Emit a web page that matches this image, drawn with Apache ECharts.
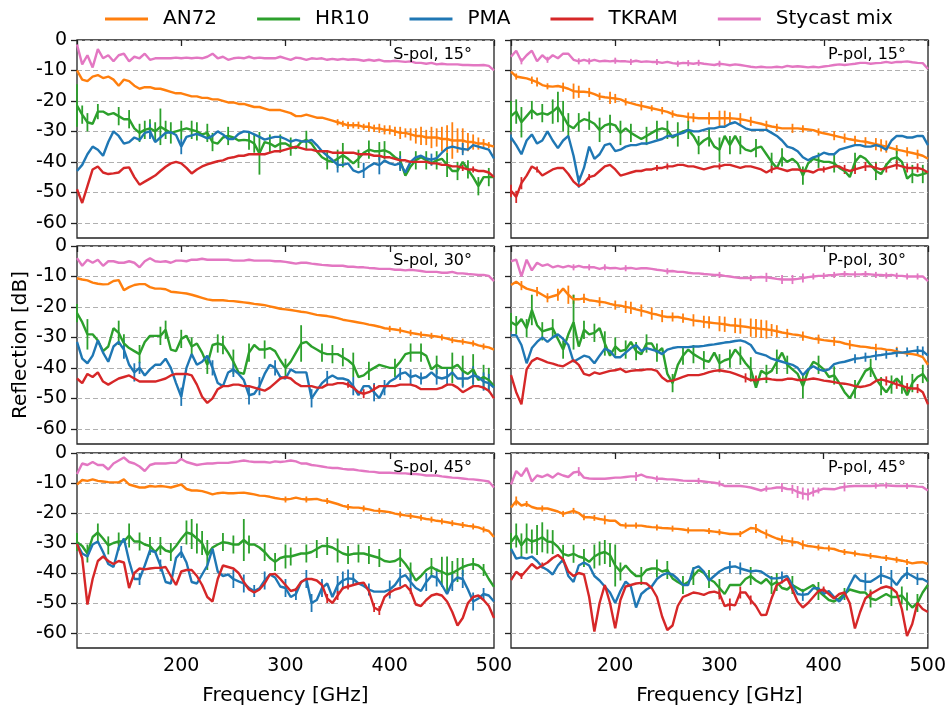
<!DOCTYPE html>
<html><head><meta charset="utf-8">
<script src="https://cdn.jsdelivr.net/npm/echarts@6/dist/echarts.min.js"></script>
<style>html,body{margin:0;padding:0;background:#fff}#c{width:949px;height:707px}</style>
</head><body><div id="c"></div>
<script>
// ---------- DATA ----------
const freqs = [100,105,110,115,120,125,130,135,140,145,150,155,160,165,170,175,180,185,190,195,
200,205,210,215,220,225,230,235,240,245,250,255,260,265,270,275,280,285,290,295,
300,305,310,315,320,325,330,335,340,345,350,355,360,365,370,375,380,385,390,395,
400,405,410,415,420,425,430,435,440,445,450,455,460,465,470,475,480,485,490,495,500];
const xTicks = [100,200,300,400,500];
const yTicks = [-60,-50,-40,-30,-20,-10,0];
const materials = ['AN72','HR10','PMA','TKRAM','Stycast mix'];
const panelLabels = ['S-pol, 15°','P-pol, 15°','S-pol, 30°','P-pol, 30°','S-pol, 45°','P-pol, 45°'];

// S-pol 15
const s15_an72 = [-10,-13,-13.5,-12,-11.5,-12.5,-12,-13,-15,-13,-13.5,-15,-16,-15.5,-15.5,-16,-16,-16.5,-17,-17.5,-17.5,-18,-18.5,-18.5,-19,-19,-19.5,-19.5,-20,-20.5,-20.5,-21,-21,-21.5,-22,-22,-22.5,-23,-23,-23,-23.5,-24,-25,-25,-24.5,-25,-25.5,-25.5,-26,-26.5,-27,-27.5,-28,-28,-28,-28.5,-28.5,-29,-29,-29.5,-29.5,-30,-30.5,-30.5,-31,-31.5,-31.5,-32,-32,-32,-32.5,-32.5,-33,-33,-33,-33.5,-33.5,-34,-34,-34.5,-35];
const s15_hr10 = [-21.5,-24.5,-27,-27.5,-23.5,-23.5,-24.5,-24,-25,-26,-26,-29,-30.5,-29.5,-29,-30,-28.5,-29.5,-30.5,-30,-29.5,-29,-29.5,-30,-31,-30.5,-33.5,-34,-32,-31.5,-32,-33,-32.8,-33,-34,-37.2,-33.5,-34,-35,-34,-34,-35,-35.5,-33.5,-32.8,-34,-36.5,-38.5,-39.5,-40,-39,-37.8,-39,-40.5,-39,-37,-36,-36.5,-36.5,-36.2,-37,-38.5,-39.5,-44.5,-41.5,-39.5,-38.5,-39.5,-40.5,-39.5,-39,-41,-43,-43,-40,-42.5,-45,-48,-45,-45,-45];
const s15_pma = [-43,-41,-37.5,-35,-36,-38,-33.5,-30,-31.5,-34,-33.5,-32,-32.8,-30.5,-30,-33.5,-32,-30.5,-30.3,-31.2,-35,-31.8,-31.3,-30.8,-31.5,-32.3,-31.5,-30,-31,-32.5,-32.5,-30.8,-30,-30.2,-31,-31.8,-32.7,-32.2,-31.8,-31.8,-32.5,-33.4,-32.8,-33.2,-33.4,-32.8,-34.5,-36.5,-38,-39.4,-41,-41,-40.5,-42.8,-43.5,-42.8,-41.5,-40.5,-41.1,-39.6,-40.5,-41,-40.5,-43.5,-40,-38.5,-38,-38.9,-39.3,-38.8,-37,-35.5,-35,-35.4,-35.8,-36,-34.5,-35,-35.5,-36,-38.9];
const s15_tkram = [-49,-53.5,-48,-42.5,-41.5,-43.5,-44,-43.8,-43.5,-42,-41.8,-45,-47.5,-46.5,-45.5,-44.5,-43,-41.6,-40.5,-40,-40.5,-42,-43.8,-42.5,-41.5,-40.8,-40.3,-39.8,-39.5,-38.8,-38.5,-38,-38,-37.5,-37.5,-37.5,-37.5,-37,-36.5,-36.5,-36,-35.5,-35,-35.5,-36,-36,-36.5,-36.5,-36.5,-37,-37,-37,-37,-37,-37.5,-37.5,-37.5,-38,-38,-38.5,-38.5,-39,-39.5,-39.5,-40,-40,-40,-40,-40.5,-40.5,-41,-41,-41.5,-41.5,-42,-42.5,-42.5,-43,-43,-43.5,-45];
const s15_styc = [-1.5,-8,-5,-9,-3,-6,-5,-7,-5,-4.5,-7,-5.5,-6,-4.5,-6.5,-6,-6,-6,-6,-5.8,-6,-5.8,-6,-5.8,-6,-5.5,-4.5,-6,-5.5,-6.5,-6,-5.8,-6,-5.5,-6,-5.8,-6,-6,-6,-5.5,-6,-6.5,-5.8,-6,-6.5,-6,-6.2,-6,-6.5,-6.2,-6.5,-6.2,-6.5,-6.3,-6.5,-6.8,-6.5,-6.8,-6.5,-7,-7,-6.8,-7,-7.2,-7,-7.5,-7.5,-7.8,-7.5,-8,-7.8,-8,-8,-8,-8.2,-8.2,-8.3,-8.3,-8.2,-8.5,-10];
// P-pol 15
const p15_an72 = [-10.4,-12,-12.3,-12.6,-13.2,-13.8,-14.8,-15.2,-15.3,-15.1,-15.5,-16,-16.8,-17,-17,-17.2,-17.8,-18.5,-18.8,-19,-19.2,-19.5,-20.3,-20.7,-21.2,-21.6,-22,-22.4,-22.8,-23.2,-23.6,-24.3,-24.8,-25,-25.3,-25.5,-25.7,-25.7,-25.7,-25.7,-25.7,-25.7,-25.7,-25.8,-26,-26.3,-26.7,-27.1,-27.5,-28,-28.4,-28.7,-29,-29,-29,-29,-29.2,-29.4,-29.6,-30.2,-30.6,-31,-31.4,-31.8,-32.2,-32.6,-32.9,-33.2,-33.4,-33.8,-34.2,-34.6,-35,-35.5,-36,-36.3,-36.7,-37.1,-37.5,-38,-39];
const p15_hr10 = [-25,-23.5,-27,-25,-23,-24.5,-24,-24.5,-23.5,-22,-25,-28,-29,-27,-26,-26.5,-27.5,-29.5,-28,-27.5,-28,-30.5,-29,-30.5,-31.5,-32.5,-31.5,-30.5,-29.5,-29,-29.5,-32,-31,-30,-29.5,-31.5,-34.5,-33,-32,-35,-36,-31.5,-34.5,-31.5,-34.5,-36,-36.5,-35.5,-35,-37.5,-40,-42,-38.5,-40,-39,-40.5,-44.5,-40.5,-39,-39.5,-40,-40,-40.5,-42,-43,-45,-40,-38,-39,-41,-43,-44,-41,-39,-38.5,-40,-45.5,-44,-44.5,-44,-43.5];
const p15_pma = [-32,-34.5,-37.5,-33,-31,-34,-33,-30,-33,-35.5,-33,-31.5,-38,-46.5,-42,-35,-39,-37.5,-34.5,-34,-36.5,-36,-35,-34.5,-34.5,-34,-34,-33.5,-33,-32.5,-31.5,-31.5,-31,-30.5,-29.5,-30,-30,-29.5,-29,-29,-28.5,-28.5,-27.5,-27,-28,-29,-29.5,-29.5,-29.5,-29.5,-30.5,-31.5,-33,-35,-35.5,-36.5,-38.5,-39.5,-38.5,-38,-37,-37.5,-37.5,-36,-35.5,-35,-34.5,-34.5,-35,-35,-34.5,-35,-36,-33,-31.5,-31.5,-32,-32,-31.5,-31.5,-34.5];
const p15_tkram = [-49.5,-51.5,-47,-44.5,-41.5,-42.5,-44.5,-43.5,-42.5,-42,-42,-44,-46.5,-48,-47,-45,-44.5,-43,-41.5,-41,-42.5,-44.5,-44,-43.5,-43,-43,-42.5,-42.5,-42,-42,-41.5,-41.5,-41,-41,-41.5,-41.5,-42,-42.5,-42,-41.5,-41.5,-41,-41,-41.5,-42,-41.5,-41.5,-42,-42.5,-43.5,-42.5,-42,-42.5,-43,-42.5,-42.5,-43,-43,-43.5,-42.5,-42.5,-42,-41.5,-41.5,-42.5,-43,-42.5,-42,-41.5,-41.5,-42,-42.5,-42,-41.5,-41,-41.5,-42,-42,-42,-42.5,-43.5];
const p15_styc = [-5.5,-3.5,-7,-5,-3.5,-7,-5,-6.5,-5,-6,-4.5,-4.5,-6.5,-7,-6.5,-7,-6.5,-7,-6.8,-7,-6.8,-7,-7,-7.2,-6.8,-7.2,-7,-7.2,-7.2,-7.5,-7.2,-7.6,-7.8,-7.5,-7.6,-7.8,-7.5,-7.8,-8,-8.2,-7.8,-8,-8.3,-8,-8.2,-8.5,-8.8,-9,-8.8,-9,-9,-8.8,-9,-8.5,-8.8,-8.6,-8.8,-9,-8.8,-9,-8.7,-8.5,-8.2,-8,-8.2,-8,-7.8,-7.5,-7.5,-7.8,-7.6,-7.5,-7.2,-7.5,-7.2,-7.2,-7,-7.3,-7.5,-7.6,-9.5];
// S-pol 30
const s30_an72 = [-10.6,-11,-11.3,-12,-12.4,-12.6,-12.5,-11.5,-11.2,-14.5,-13.5,-12.8,-12.5,-12.5,-13.5,-14,-14,-14.2,-15,-15.2,-15.4,-15.6,-16,-16.5,-17,-17.5,-17.8,-17.8,-17.8,-18,-18.1,-18.3,-18.5,-18.7,-19,-19.2,-19.4,-19.8,-20.2,-20.6,-20.8,-21,-21.3,-21.6,-21.8,-22.2,-22.6,-22.8,-23,-23.3,-23.7,-24.2,-24.5,-24.8,-25.1,-25.4,-25.8,-26.1,-26.5,-27,-27.2,-27.4,-27.7,-28.1,-28.5,-28.8,-29.1,-29.3,-29.5,-29.7,-30,-30.4,-30.9,-31.2,-31.4,-31.7,-32,-32.6,-33,-33.3,-34];
const s30_hr10 = [-22,-25,-29,-29,-31,-34.5,-33,-27,-28.5,-32,-33.5,-34.5,-35.5,-31.5,-29.5,-29.5,-29.5,-27.5,-34,-34.5,-30.5,-29.5,-33,-32,-35,-39,-32.5,-32,-32.5,-35,-38,-41.5,-42,-35,-32.5,-34,-34,-33.5,-34.5,-37.5,-40,-38,-35,-32,-31.5,-33,-34,-35,-35.5,-35.5,-35.5,-36.5,-37.5,-39,-43,-42.5,-41,-40,-39,-39.5,-40,-40,-38,-35.5,-35,-35,-35,-36,-40.5,-39,-40,-40,-40,-39,-41,-42,-40.5,-44,-43,-44,-46];
const s30_pma = [-31.5,-37,-38.5,-36,-31,-35,-38,-33,-31.5,-34,-39,-41.5,-40,-42.5,-40.5,-39,-39,-37,-40,-45,-49.5,-40,-35.5,-39,-38,-36,-40,-45,-46,-41.5,-40.5,-42,-44,-49,-48.5,-46,-42,-39,-40,-43,-43.5,-40.5,-41.5,-41.5,-41.5,-50,-47.5,-45,-43.5,-42.5,-43.5,-43.5,-44,-46,-49,-46,-46,-48,-50,-46.5,-44.5,-43.5,-42,-41.5,-43,-42.5,-43.5,-43,-41.5,-43,-43.5,-43,-41.5,-43.5,-43.5,-43.5,-42.5,-43,-44.5,-45,-46.5];
const s30_tkram = [-43.5,-45,-42,-43,-41.5,-44.5,-45.5,-44.5,-43.5,-43,-42.5,-43.5,-44.5,-44.5,-44.5,-44.5,-44,-43.5,-42.5,-42,-42,-42,-42.5,-45.5,-49.5,-51.5,-50,-47,-46,-46,-45.5,-45.5,-46,-46,-46.5,-47,-47.5,-46.5,-45,-43.5,-43,-43.5,-45,-46,-46,-46,-46.5,-46.5,-45.5,-45.5,-45,-45,-45.5,-46.5,-48,-48.5,-48,-47,-46,-46,-46,-46,-45.5,-45.5,-45.5,-46,-47,-47,-47,-47,-46.5,-45.5,-45.5,-46.5,-48,-47,-46,-46,-46.5,-47.5,-50];
const s30_styc = [-4,-6.5,-4.5,-5.5,-4.5,-6.5,-5,-5,-5.5,-5.5,-5,-5.5,-7,-5,-4,-5,-5.2,-5,-5.5,-4.8,-4.8,-5,-4.5,-4.5,-4.2,-4.5,-4.5,-4.5,-4.5,-4.5,-4.8,-4.8,-4.8,-4.5,-4.8,-4.8,-4.8,-4.8,-5,-5,-5.2,-5.5,-5.8,-5.5,-5.5,-5.8,-6,-6.2,-6.3,-6.5,-6.5,-6.5,-6.8,-6.8,-7,-7,-7.2,-7.3,-7.5,-7.5,-7.5,-7.8,-7.8,-8,-7.8,-8,-8.2,-8.5,-8.5,-8.5,-8.8,-8.8,-8.5,-9,-9,-9.2,-9.3,-9.5,-9.5,-9.8,-11.5];
// P-pol 30
const p30_an72 = [-12.8,-11.7,-13,-14,-14.5,-15,-16,-17,-16.5,-16,-14,-16,-17.5,-17.5,-17.2,-17.8,-18,-18.3,-18.5,-19,-19.4,-19.6,-20,-20.3,-20.8,-21.2,-21.6,-22.2,-22.5,-23,-23.3,-23.3,-23.3,-23.7,-24,-24.4,-24.6,-24.9,-25.1,-25.3,-25.5,-25.7,-26,-26.1,-26.3,-26.5,-26.8,-27,-27.2,-27.4,-27.6,-28,-28.4,-28.7,-29,-29.2,-29.6,-30,-30.4,-30.6,-30.9,-31.1,-31.3,-31.5,-32,-32.4,-32.7,-33,-33.1,-33.4,-33.6,-33.7,-34,-34.2,-34.6,-35,-35.3,-35.5,-35.8,-36.5,-39];
const p30_hr10 = [-25,-26,-24,-27,-21,-26,-28,-27.5,-27,-30.5,-34,-29,-25,-33,-27.5,-29,-28.5,-27,-32,-36,-33,-34.5,-34,-31.5,-34.5,-35.5,-32,-32,-35,-33.5,-42,-45,-39,-36,-34,-35.5,-36.5,-37.5,-38,-35,-38.5,-37.5,-37,-34,-36,-38.5,-40.5,-46.5,-41,-42,-41,-38,-35,-39,-40.5,-42,-46,-41,-38,-39,-40.5,-43,-42.5,-45,-48,-50,-47,-44,-41,-40,-43.5,-46,-48,-45.5,-43.5,-45.5,-49,-45,-43,-42,-44.5];
const p30_pma = [-29.3,-29.3,-32.5,-38.5,-33.5,-31.5,-30,-31.5,-30,-29,-30.5,-32.5,-38,-37,-36,-36.5,-38.5,-36,-33.7,-34.5,-36.5,-36.5,-35,-33.5,-32.5,-34.5,-33.5,-34,-34.5,-35.5,-34,-33.5,-33.2,-33.2,-33.2,-33,-33,-32.8,-32.5,-32.3,-32,-31.7,-31.5,-31.2,-31,-31.5,-32.5,-35,-35.5,-36,-37,-37.5,-38,-38.5,-39,-40,-42.4,-40.5,-39.5,-40.5,-41,-40.5,-38.8,-38.3,-38,-37.5,-37,-36.8,-36.5,-36.3,-36,-35.8,-35.5,-35.3,-35,-35,-34.8,-34.5,-34.3,-34.5,-36];
const p30_tkram = [-42.4,-48,-52,-40.5,-37.8,-36.8,-37.5,-38.2,-38.6,-39.2,-39.5,-38.5,-37.5,-39,-42,-42.5,-41.5,-42,-41.5,-41,-40.8,-40.3,-41.4,-41,-40.8,-40.8,-40.5,-40.5,-41,-43.2,-44.4,-44.2,-43.6,-43,-42.4,-42.4,-42.4,-42,-41.4,-41,-40.8,-41.1,-41.4,-42,-42.6,-43.3,-44,-44,-43.7,-43.5,-43.8,-44,-44,-43.6,-43.6,-44,-44,-43.8,-43.5,-43.8,-44.2,-44.4,-44.7,-45,-45.2,-45.5,-46,-46.3,-46,-45.5,-44.3,-43.8,-44.3,-44.8,-45.4,-45.9,-46.5,-46.8,-46.8,-48,-52];
const p30_styc = [-5,-4.5,-10,-4.5,-8,-5.5,-6.5,-6,-7,-6.5,-7,-6.5,-7,-6.5,-7,-7,-7,-7.5,-7,-7.3,-7.2,-7.5,-7.3,-7.2,-7.5,-7.3,-7.3,-7.5,-7.8,-8,-8.3,-8.2,-8.5,-8.5,-8.8,-9,-9,-9.2,-9.3,-9.5,-9.5,-9.8,-10,-10.3,-10.5,-10.5,-10.5,-10.3,-10.2,-10.3,-10.5,-10.8,-11,-11,-11,-10.8,-10.5,-10.2,-10,-9.8,-9.8,-9.6,-9.5,-9.3,-9.2,-9.3,-9.3,-9.3,-9.2,-9.3,-9.5,-9.5,-9.7,-9.5,-9.8,-9.8,-10,-10,-10,-10,-11.5];
// S-pol 45
const s45_an72 = [-10.5,-9,-9.3,-8.8,-9.3,-9.5,-9.7,-9.8,-9.8,-8.8,-10.5,-11,-11.5,-11.5,-11,-11.2,-11,-11.2,-11.5,-11,-10.5,-12,-12.5,-12.5,-12.7,-13.2,-13.8,-13.4,-13.2,-13.4,-13.4,-13.3,-13.2,-13.5,-13.8,-14.2,-14.3,-14.6,-15,-15.3,-15.5,-15.3,-14.9,-15.3,-15.5,-15.4,-15.3,-15.8,-16,-16.5,-17,-17.6,-18,-18.2,-18.2,-18.5,-18.8,-19.2,-19.3,-19.5,-19.7,-20.2,-20.5,-20.8,-21,-21.3,-21.6,-22,-22.2,-22.6,-22.8,-23.1,-23.4,-23.7,-24,-24.3,-24.5,-24.8,-25.5,-26,-28];
const s45_hr10 = [-29.7,-31,-33.5,-28,-26.5,-28.5,-30.8,-30,-29.5,-29.5,-27.5,-29.5,-29.5,-30.5,-31,-33,-31,-32.5,-33,-31,-28.6,-26.5,-27,-28.5,-30,-34,-31.5,-30.5,-29.7,-30,-30.5,-30.5,-29,-30.5,-30.5,-31.5,-33,-35,-36.3,-35,-34.5,-34.5,-34,-33.5,-33.5,-33,-32,-31,-31,-31.5,-32.5,-33.5,-34,-33.6,-33.5,-33.5,-34,-34.5,-35,-36,-36.3,-36,-35,-37,-39.5,-42.5,-41,-39,-38,-39,-39.6,-40.5,-40,-39,-38,-37.4,-37,-37.5,-39,-42,-44.6];
const s45_pma = [-30.3,-33.5,-34.5,-30.5,-29.5,-33,-37,-38,-31.5,-28.5,-36,-42,-42,-37.5,-32.5,-33,-37.5,-43,-43.5,-35,-33,-36.5,-43,-43.5,-40.5,-37.5,-31.9,-39.5,-41,-40.5,-42,-42.8,-43.5,-45,-46,-45.1,-42.5,-40.5,-41.5,-44.5,-45,-48,-47,-43,-42,-50,-49,-45,-43.5,-48,-44,-42.5,-41.8,-42,-43.5,-44.3,-45.5,-46.2,-46.2,-46.2,-45.5,-44,-41.5,-40.7,-43,-45,-46,-43,-41,-41.5,-44,-47,-43,-41.5,-42,-45.5,-49.5,-48.5,-47,-47.5,-49.5];
const s45_tkram = [-30.3,-35,-50.5,-42,-36,-34.5,-36,-37,-36,-36.5,-45,-40,-38.5,-38.8,-38.5,-38.3,-38.3,-38,-41,-44,-39.5,-39,-39,-41,-44,-48,-49.5,-42,-37.5,-38,-38.5,-40,-43,-45.5,-46.5,-45.5,-43.5,-40.5,-40.3,-42,-44,-46,-45.5,-43,-42,-42,-42.5,-44,-48.5,-50,-47.5,-45,-44.5,-44,-43.5,-43.2,-46,-51.5,-52.5,-48,-46.5,-45.5,-45,-44,-46,-50.5,-51,-49,-47.5,-47,-47.5,-49.5,-53,-57.5,-55,-50,-48,-47.5,-49,-51,-55];
const s45_styc = [-7,-3.5,-4,-3,-4,-4,-5.5,-3.5,-2.5,-1.5,-3,-3.5,-4.5,-6,-4,-3.5,-3.5,-3.5,-3.3,-3.3,-2,-3,-3.5,-4,-3.7,-3.5,-3.5,-3.3,-3.3,-3.3,-3,-2.8,-2.5,-2.8,-3,-3,-3,-3.2,-2.8,-3,-2.8,-2.5,-2.8,-3.5,-3.5,-4,-4.2,-4.5,-4.8,-5,-5,-5.3,-5.5,-5.5,-5.8,-6,-6.2,-6.3,-6.6,-6.6,-6.6,-6.7,-6.8,-6.8,-7,-7,-7.2,-7.5,-7.5,-7.5,-7.8,-8,-8.2,-8.3,-8.5,-8.7,-8.8,-9,-9.2,-9.5,-11.5];
// P-pol 45
const p45_an72 = [-18.2,-16,-17.5,-17,-18,-18.5,-18.5,-18.5,-19,-19.5,-20.3,-19.8,-19.3,-20,-21.4,-21.4,-21.6,-22,-22.3,-22.6,-22.6,-24,-24.2,-24.2,-24.2,-24.2,-24.5,-24.7,-24.8,-25,-25.1,-25.2,-25.3,-25.5,-25.8,-25.8,-25.8,-25.8,-26,-26.2,-26.4,-26.7,-27,-27,-27,-26,-25,-25.2,-26.2,-27,-27.8,-28.5,-29,-29.3,-29.6,-29.8,-30.6,-31,-31.2,-31.5,-31.7,-31.8,-32,-32.6,-33,-33.2,-33.5,-33.8,-34,-34.3,-34.5,-34.8,-35,-35.3,-35.6,-35.9,-36.3,-36.8,-36.5,-36.4,-37];
const p45_hr10 = [-29.7,-27.5,-30.8,-28.5,-29.5,-29,-28.1,-29.5,-29.7,-31.3,-33.6,-34.2,-33.6,-34.5,-35,-36.3,-34.5,-33.5,-33,-34,-37.5,-39.5,-37.5,-39.5,-41,-41,-39,-38.5,-38.5,-39.5,-39,-41.8,-43,-44,-43,-41,-39,-40,-42,-43,-45,-47,-44,-44,-44,-42,-41,-42.5,-43.5,-42,-44,-43,-45,-45.5,-44,-45,-46,-45,-44,-46,-47.5,-49,-49.5,-48.5,-47,-45.5,-46,-46.5,-46.5,-48.5,-49,-48,-47,-48,-48,-47.5,-49.5,-51.5,-50,-46.5,-44];
const p45_pma = [-31.9,-35.2,-34.8,-35.2,-34.5,-36,-38,-39,-40.5,-37.5,-35.5,-41,-43,-37.5,-36.5,-37.5,-41,-42.5,-44.5,-46.5,-50,-46,-42.9,-44.5,-51.5,-47,-45.5,-44.5,-42,-40.7,-40,-40.5,-42,-44,-44,-38.5,-37.8,-39.5,-42.5,-41,-39.5,-38.5,-38,-37.8,-38.5,-39,-39.5,-39.2,-39.5,-40.7,-41.8,-41.8,-41.5,-41,-44,-47,-47.3,-47,-45.1,-45.1,-47,-46,-48,-49.5,-47.5,-44,-40.7,-42.5,-42.9,-42.9,-41.8,-40.7,-41.3,-42,-44,-41.5,-40,-41,-42,-42,-43];
const p45_tkram = [-42.4,-39.6,-41,-39,-37,-38.5,-37.5,-36.5,-35,-34,-35.5,-39.5,-41,-40,-40.5,-48,-59.5,-50,-44,-50,-58.4,-49,-44.5,-44,-43.5,-43.3,-43.5,-45,-48,-54.5,-59,-57.5,-51,-48,-47.3,-46.5,-46.8,-47.3,-46.5,-46.2,-46.8,-51,-50.5,-50.8,-46.5,-46.5,-49,-51,-54,-53.9,-48.5,-44,-43,-41.8,-45.5,-49.5,-51.5,-50,-48,-46,-45.5,-47,-48.5,-47,-46.5,-50,-58.5,-53,-48.5,-47,-46,-45,-44.5,-45,-46.5,-52,-61,-57,-50,-52,-53];
const p45_styc = [-10.5,-6,-7.7,-5,-9.5,-7.5,-8,-7.2,-8.2,-6.8,-7.5,-8,-6.5,-6.2,-8.2,-8.5,-8.6,-8.6,-8.6,-8.4,-8.2,-8.2,-8,-7.8,-7.8,-7.2,-8,-8.2,-8.6,-8.6,-8.8,-8.8,-9,-9.2,-9.3,-9.3,-9.3,-9.5,-9.7,-9.9,-10.2,-11,-11,-11,-11,-11.2,-11.5,-12,-12.5,-11.9,-11.8,-11.5,-11.5,-12,-12.1,-13,-13.5,-13.8,-13,-12.5,-11.9,-12,-12.1,-11.6,-11.3,-11.1,-11,-11,-11,-11,-10.9,-10.8,-10.8,-10.9,-11,-11,-11,-11,-11.2,-11.3,-12.5];

// Error bars: [frequency, half-width in dB]
const s15_an72_err = [[350,1],[355,1],[360,1.2],[365,1],[370,1.2],[375,1],[380,1.5],[385,1.2],[390,1.5],[395,1.5],[400,1.5],[405,1.5],[410,2],[415,1.5],[420,2],[425,2.5],[430,3],[435,2.5],[440,3.5],[445,3],[450,4],[455,4.5],[460,6],[465,4],[470,4],[475,3],[480,2.5],[485,2],[490,1.5],[495,1]];
const s15_hr10_err = [[100,7],[105,3],[110,3],[120,2.5],[140,3],[150,3],[160,3],[165,3],[170,3],[175,3],[180,6],[185,3],[190,3.5],[200,3],[210,3],[215,3],[225,3],[230,3],[245,3],[265,3],[270,3],[275,7],[285,3],[295,3],[305,3],[320,3],[340,3],[350,3],[355,4],[370,3],[380,3],[390,3],[395,3],[410,3],[425,3],[435,3],[445,3],[455,4],[465,3],[475,3],[485,3],[495,3]];
const s15_pma_err = [[170,2.5],[200,2.5],[350,2.5],[375,2.5],[390,3],[410,2.5],[440,2],[470,2]];
const s15_tkram_err = [[470,1],[480,1]];
const p15_an72_err = [[105,1],[120,1.2],[125,1.5],[135,1],[150,1.5],[160,2.5],[165,2],[175,1.5],[185,1.2],[195,2],[200,1.5],[210,1.2],[225,1.5],[235,1],[245,1.2],[255,1.2],[270,1.5],[275,1.5],[290,2],[300,2.5],[305,2.5],[310,2],[320,2],[330,1.5],[345,1.5],[355,1.2],[370,1.5],[380,1.2],[395,1.2],[410,1.5],[420,1.5],[430,1.5],[440,1.5],[450,2],[455,2],[460,2],[470,1.5],[480,1.5],[490,1.5]];
const p15_hr10_err = [[100,5],[105,4],[110,5],[120,3],[130,3],[140,4],[145,5],[150,5],[155,4],[165,3],[175,3],[185,4],[195,3],[205,4],[215,3],[230,3],[240,3],[250,3],[260,4],[270,3],[280,3],[290,3],[300,4],[310,3],[320,3],[335,3],[350,3],[360,3],[380,3],[395,2.5],[410,3],[430,3],[450,3],[470,3],[485,3],[495,3]];
const p15_pma_err = [[100,1],[165,2]];
const p15_tkram_err = [[100,2],[105,2],[110,2],[125,1],[175,1],[240,1],[250,1],[300,1],[350,1.2],[400,1],[420,1.5],[430,1.5],[440,1.5],[450,1.5],[460,1.5],[470,1.5],[480,1.5],[490,1.5]];
const p15_styc_err = [[110,1],[135,1],[165,1],[175,1],[200,1],[215,1],[240,1],[260,1],[270,1],[280,1],[300,1]];
const s30_an72_err = [[400,1],[410,1],[420,1],[430,1],[440,1],[450,1],[460,1],[470,1],[480,1],[490,1]];
const s30_hr10_err = [[100,3],[110,5],[140,4],[145,3],[160,3],[180,3],[185,3],[200,3],[210,3],[225,3],[235,3],[240,3],[250,4],[265,3],[280,3],[300,3],[315,6],[335,3],[345,3],[355,3],[365,4],[380,3],[405,3],[420,3],[430,3],[445,3],[460,5],[470,5],[480,5],[490,4],[495,4]];
const s30_pma_err = [[145,3],[155,3],[160,2],[200,3],[230,2.5],[250,2.5],[265,3],[275,3],[290,2.5],[325,3],[340,2.5],[365,3],[385,3],[395,2.5],[410,2],[420,2.5],[430,2],[445,2.5],[455,3],[470,3],[480,3],[490,3],[495,3]];
const s30_tkram_err = [[360,1],[375,1.5],[385,1.5]];
const p30_an72_err = [[110,1.5],[125,1.5],[135,1.5],[145,2],[155,3],[160,1.5],[170,1.5],[185,1.5],[200,1.5],[210,2],[215,2],[225,2],[235,2],[245,2],[255,1.5],[265,1.5],[275,2],[285,2],[290,2],[300,2.5],[305,2.5],[315,2.5],[320,2.5],[330,3],[335,3],[340,3],[345,3],[350,2],[355,2],[365,1.5],[380,1.5],[395,1.5],[410,1.5],[425,1.5],[450,1.5],[470,1.5]];
const p30_hr10_err = [[100,3],[105,3],[115,3],[120,5],[130,3],[140,3],[150,3],[160,9],[170,3],[180,3],[190,4],[200,3],[210,3],[220,3],[230,3],[240,3],[255,3],[265,3],[275,3],[285,3],[300,3],[310,3],[320,3],[330,4],[345,3],[355,4],[365,3],[380,4],[395,3],[410,3],[430,3],[445,3],[455,3],[465,3],[475,3],[485,3],[495,3]];
const p30_pma_err = [[430,1.5],[440,1.5],[450,1.5],[460,1.5],[470,1.5],[480,1.5],[490,1.5],[495,1.5]];
const p30_tkram_err = [[325,1.5],[335,1.5],[460,1.5],[470,1.5],[480,1.5],[490,1.5]];
const p30_styc_err = [[160,1],[175,1],[190,1],[210,1],[250,1],[300,1],[330,1],[345,1.5],[360,1.5],[370,1.5],[380,1.5],[390,1],[400,1],[410,1],[420,1],[430,1],[440,1],[450,1],[460,1],[470,1],[480,1],[490,1]];
const s45_an72_err = [[300,1],[320,1],[340,1],[360,1],[375,1],[390,1],[410,1],[420,1],[430,1],[440,1],[450,1],[460,1],[470,1],[480,1],[490,1]];
const s45_hr10_err = [[100,3],[110,3],[120,3],[130,3],[140,3],[150,4],[160,3],[170,3],[180,3],[190,3],[205,4],[210,5],[215,5],[220,4],[225,5],[240,3],[250,3],[260,7],[265,3],[280,3],[290,3],[300,4],[305,3],[320,3],[330,3],[340,3],[350,4],[360,3],[370,3],[380,3],[390,3],[410,3],[420,3],[440,3],[450,5],[455,6],[460,4],[465,4],[470,3],[480,2],[490,2]];
const s45_pma_err = [[160,2],[180,2],[200,2],[250,3],[260,3],[270,2],[280,3],[300,3],[310,2],[320,3],[325,3],[335,3],[350,3],[355,3],[360,3],[365,2],[380,2],[400,3],[410,3],[420,3],[435,3],[445,3],[460,3],[470,3],[480,3],[490,2]];
const s45_tkram_err = [[340,1.5],[350,1.5],[360,1],[385,1.5],[390,1.5],[400,1],[420,1]];
const p45_an72_err = [[105,1.5],[115,1],[130,1],[150,1],[160,1],[170,1],[180,1],[190,1.5],[210,1],[220,1],[240,1],[255,1],[270,1],[290,1],[300,1],[320,1],[335,1.5],[345,1.5],[360,1.5],[370,1.5],[380,1.5],[395,1],[405,1],[420,1],[430,1],[445,1],[460,1],[470,1],[480,1]];
const p45_hr10_err = [[100,3],[105,4],[110,4],[115,5],[120,4],[125,5],[130,5],[135,4],[140,4],[150,3],[160,3],[170,3],[180,4],[185,4],[190,4],[195,4],[200,7],[205,3],[225,3],[240,3],[250,3],[265,3],[275,3],[290,3],[300,3],[330,3],[350,3],[355,3],[370,3],[395,3],[420,2],[445,3],[465,3],[475,3],[480,3],[490,3]];
const p45_pma_err = [[310,2],[320,2],[360,2],[380,2],[440,3],[455,3],[465,3],[480,2],[490,2]];
const p45_tkram_err = [[110,1],[130,1],[300,2],[310,2],[320,2],[330,1.5],[400,1],[445,1]];
const p45_styc_err = [[165,1.5],[220,1.5],[240,1],[280,1],[300,1],[345,1],[360,1.5],[370,1.5],[375,2],[380,2],[385,2],[390,1.5],[395,1],[420,1.5],[450,1],[460,1],[480,1]];

// ---------- CHART ----------
const FONT = 'DejaVu Sans';
const colors = ['#ff7f0e','#2ca02c','#1f77b4','#d62728','#e377c2'];
const panelData = [
  [s15_an72,s15_hr10,s15_pma,s15_tkram,s15_styc],
  [p15_an72,p15_hr10,p15_pma,p15_tkram,p15_styc],
  [s30_an72,s30_hr10,s30_pma,s30_tkram,s30_styc],
  [p30_an72,p30_hr10,p30_pma,p30_tkram,p30_styc],
  [s45_an72,s45_hr10,s45_pma,s45_tkram,s45_styc],
  [p45_an72,p45_hr10,p45_pma,p45_tkram,p45_styc]
];
const panelErr = [
  [s15_an72_err,s15_hr10_err,s15_pma_err,s15_tkram_err,[]],
  [p15_an72_err,p15_hr10_err,p15_pma_err,p15_tkram_err,p15_styc_err],
  [s30_an72_err,s30_hr10_err,s30_pma_err,s30_tkram_err,[]],
  [p30_an72_err,p30_hr10_err,p30_pma_err,p30_tkram_err,p30_styc_err],
  [s45_an72_err,s45_hr10_err,s45_pma_err,s45_tkram_err,[]],
  [p45_an72_err,p45_hr10_err,p45_pma_err,p45_tkram_err,p45_styc_err]
];
panelData.forEach((p,pi)=>p.forEach((a,mi)=>{ if(a.length!==freqs.length) throw new Error('len '+pi+' '+mi+' '+a.length); }));

const colLeft = [77, 511], gridW = 417;
const rowTop = [40, 246, 453], gridH = 198;
const YMIN = -65, YMAX = 0;

const grids=[], xAxes=[], yAxes=[], series=[], titles=[];
panelData.forEach((pd, i) => {
  const row = Math.floor(i/2), col = i%2;
  grids.push({left: colLeft[col], top: rowTop[row], width: gridW, height: gridH,
    show: true, borderColor: '#222', borderWidth: 1.3, backgroundColor: 'transparent'});
  xAxes.push({gridIndex: i, type: 'value', min: 100, max: 500, interval: 100,
    axisLine: {show: false},
    axisTick: {show: true, length: 6, lineStyle: {color: '#222', width: 1.3}},
    axisLabel: {show: row === 2, showMinLabel: false, fontSize: 19, color: '#000', margin: 9, fontFamily: FONT},
    splitLine: {show: false},
    name: row === 2 ? 'Frequency [GHz]' : '', nameLocation: 'middle', nameGap: 38,
    nameTextStyle: {fontSize: 20, color: '#000', fontFamily: FONT}});
  yAxes.push({gridIndex: i, type: 'value', min: YMIN, max: YMAX, splitNumber: 6,
    axisLine: {show: false},
    axisTick: {show: true, length: 6, customValues: yTicks, lineStyle: {color: '#222', width: 1.3}},
    axisLabel: {show: col === 0, customValues: yTicks, fontSize: 19, color: '#000', margin: 10, fontFamily: FONT,
      formatter: v => (v % 10 === 0 ? (v === 0 ? '0' : '-' + Math.abs(v)) : '')},
    splitLine: {show: true, lineStyle: {color: '#b0b0b0', width: 1, type: [5, 3]}},
    name: (row === 1 && col === 0) ? 'Reflection [dB]' : '', nameLocation: 'middle', nameGap: 46,
    nameTextStyle: {fontSize: 20, color: '#000', fontFamily: FONT}});
  titles.push({text: panelLabels[i], right: col === 0 ? 477 : 43, top: rowTop[row] + 7, padding: 0,
    textStyle: {fontSize: 16, fontWeight: 'normal', color: '#000', fontFamily: FONT}});
  pd.forEach((vals, mi) => {
    series.push({name: materials[mi], type: 'line', xAxisIndex: i, yAxisIndex: i,
      data: freqs.map((f, k) => [f, vals[k]]), symbol: 'none', showSymbol: false,
      lineStyle: {color: colors[mi], width: 2.4}, itemStyle: {color: colors[mi]},
      emphasis: {disabled: true}, silent: true, clip: true});
    const errs = panelErr[i][mi];
    if (errs.length) {
      const edata = errs.map(([f, e]) => {
        const k = freqs.indexOf(f);
        if (k < 0) throw new Error('bad freq ' + f);
        return [f, Math.max(vals[k] - e, YMIN), Math.min(vals[k] + e, YMAX)];
      });
      series.push({name: materials[mi] + ' err', type: 'custom', xAxisIndex: i, yAxisIndex: i,
        data: edata, silent: true, encode: {x: 0, y: [1, 2]},
        renderItem: (params, api) => {
          const p1 = api.coord([api.value(0), api.value(1)]);
          const p2 = api.coord([api.value(0), api.value(2)]);
          return {type: 'line', shape: {x1: p1[0], y1: p1[1], x2: p2[0], y2: p2[1]},
            style: {stroke: colors[mi], lineWidth: 1.8}};
        }});
    }
  });
});

const chart = echarts.init(document.getElementById('c'), null, {renderer: 'canvas'});
chart.setOption({
  animation: false,
  backgroundColor: '#fff',
  textStyle: {fontFamily: FONT},
  title: titles,
  legend: {data: materials, left: 100, top: 4, icon: 'rect', itemWidth: 43, itemHeight: 3, itemGap: 40,
    textStyle: {fontSize: 20, color: '#000', fontFamily: FONT, padding: [0, 0, 0, 10]}},
  grid: grids, xAxis: xAxes, yAxis: yAxes, series: series
});
</script></body></html>
